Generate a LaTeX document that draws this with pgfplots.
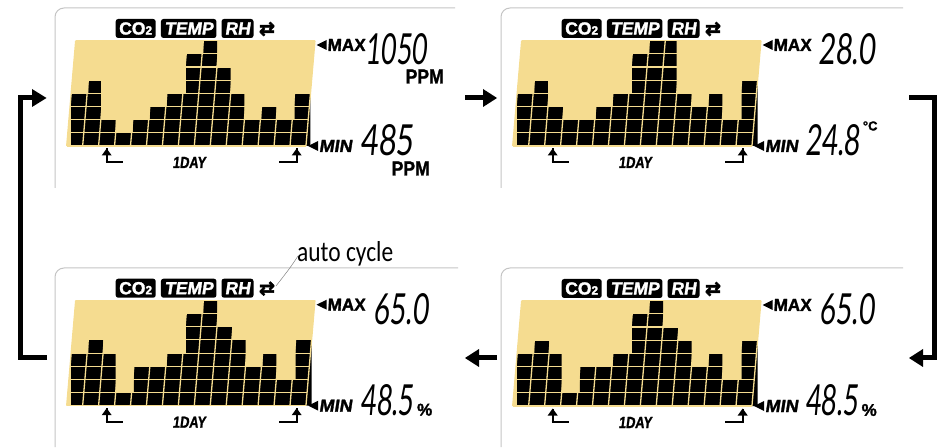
\documentclass[border=0pt]{standalone}
\usepackage{pgfplots}
\usepackage{pgfplotstable}
\usepackage{fontspec}
\usepackage{graphicx}
\pgfplotsset{compat=1.18}
\setmainfont{Liberation Sans}
\newfontfamily\lcd{Lato}
\newfontfamily\carl{Carlito}
\newfontfamily\djb[FakeBold=2.5]{DejaVu Sans Bold}
\newfontfamily\hvy[FakeBold=1.6]{Liberation Sans Bold}
\newfontfamily\hvi[FakeBold=1.6,FakeSlant=0.15]{Liberation Sans Bold}
\newfontfamily\hvs[FakeBold=1.6,FakeSlant=0.05]{Liberation Sans Bold}
\definecolor{lcdbg}{HTML}{F5DC90}
\definecolor{frm}{HTML}{C4C4C4}
\pgfplotstableread{
x h
0 4
1 5
2 2
3 1
4 2
5 3
6 4
7 7
8 8
9 6
10 4
11 2
12 3
13 2
14 4
15 4
}\tabA
\pgfplotstableread{
x h
0 4
1 5
2 3
3 2
4 2
5 3
6 4
7 7
8 8
9 8
10 4
11 3
12 4
13 2
14 5
15 5
}\tabB
\pgfplotstableread{
x h
0 4
1 5
2 4
3 1
4 3
5 3
6 4
7 7
8 8
9 6
10 5
11 3
12 4
13 2
14 5
15 5
}\tabC
\newcommand{\fs}[2]{\fontsize{#1}{#1}\selectfont #2}
\newcommand{\rb}[3]{\resizebox{#1pt}{#2pt}{#3}}
\newcommand{\lcdnum}[5]{% x y(center, rel) w h text
  \node[anchor=west,inner sep=0,xslant=0.09,transform shape] at (#1pt,#2pt) {\rb{#3}{#4}{\lcd #5}};}
\newcommand{\panel}[4]{% ox, oy(from top), table, extras
  \begin{axis}[
    at={(#1pt,447pt-#2pt)},anchor=origin,
    x={(15.95pt,0pt)},y={(1.125pt,13.16pt)},
    xmin=0,xmax=15,ymin=0,ymax=8,clip=false,
    axis line style={draw=none},
    xtick={0,1,...,15},xticklabels={},ytick={0,1,...,8},yticklabels={},
    major tick length=0pt,
    xmajorgrids,ymajorgrids,
    x grid style={lcdbg,line width=1.3pt},
    y grid style={lcdbg,line width=1.1pt},
    axis on top]
    \addplot[fill=lcdbg,draw=none] coordinates {(0,0)(15,0)(15,8)(0,8)} -- cycle;
    \addplot[const plot,fill=black,draw=none] table[x=x,y=h] {#3} \closedcycle;
  \end{axis}
  \begin{scope}[shift={(#1pt,447pt-#2pt)}]
    \node[fill=black,rounded corners=2.5pt,text=white,minimum width=40pt,minimum height=19pt,inner sep=0] at (69pt,117.5pt) {\hvy\fs{17.5}{CO}\fs{12}{2}};
    \node[fill=black,rounded corners=2.5pt,text=white,minimum width=55.5pt,minimum height=19pt,inner sep=0] at (122pt,117.5pt) {\hvi\fs{17.5}{TEMP}};
    \node[fill=black,rounded corners=2.5pt,text=white,minimum width=32pt,minimum height=19pt,inner sep=0] at (170.8pt,117.5pt) {\hvi\fs{17.5}{RH}};
    \node[inner sep=0] at (200.3pt,117pt) {\rb{16}{13}{\djb ⇄}};
    \fill (249.8pt,101pt)--(260pt,106pt)--(260pt,96pt)--cycle;
    \node[anchor=west,inner sep=0] at (260.5pt,101pt) {\rb{38}{12}{\hvs MAX}};
    \fill (241.5pt,0pt)--(251.5pt,5pt)--(251.5pt,-5pt)--cycle;
    \node[anchor=west,inner sep=0] at (252pt,0pt) {\rb{33}{12}{\hvi MIN}};
    \draw[line width=2pt] (40pt,-16pt)--(40pt,-2.5pt);
    \draw[line width=2pt] (39pt,-16pt)--(56.3pt,-16pt);
    \fill (40pt,-2.5pt)--(45pt,-9.5pt)--(35pt,-9.5pt)--cycle;
    \draw[line width=2pt] (230pt,-16pt)--(230pt,-2.5pt);
    \draw[line width=2pt] (231pt,-16pt)--(212.3pt,-16pt);
    \fill (230pt,-2.5pt)--(235pt,-9.5pt)--(225pt,-9.5pt)--cycle;
    \node[inner sep=0] at (122.3pt,-16.5pt) {\rb{33}{11}{\hvi 1DAY}};
    #4
  \end{scope}
}
\begin{document}
\begin{tikzpicture}
  \path[use as bounding box] (0,0) rectangle (939pt,447pt);
  % frames
  \draw[frm,line width=1pt,rounded corners=9pt] (55pt,447pt-188pt)--(55pt,447pt-8pt)--(455pt,447pt-8pt);
  \draw[frm,line width=1pt,rounded corners=9pt] (501pt,447pt-188pt)--(501pt,447pt-8pt)--(903pt,447pt-8pt);
  \draw[frm,line width=1pt,rounded corners=9pt] (55pt,0pt)--(55pt,447pt-268pt)--(458pt,447pt-268pt);
  \draw[frm,line width=1pt,rounded corners=9pt] (501pt,0pt)--(501pt,447pt-268pt)--(903pt,447pt-268pt);
  \panel{66.7}{146}{\tabA}{
    \lcdnum{300}{97}{61}{31}{1050}
    \lcdnum{295}{6}{53}{31}{485}
    \node[inner sep=0] at (358pt,69.5pt) {\rb{38}{14}{\hvy PPM}};
    \node[inner sep=0] at (344pt,-22.5pt) {\rb{38}{14}{\hvy PPM}};
  }
  \panel{512.7}{146}{\tabB}{
    \lcdnum{307}{97}{57}{31}{28.0}
    \lcdnum{293.5}{6}{55}{31}{24.8}
    \node[inner sep=0] at (357.5pt,20pt) {\hvy\fs{13}{°C}};
  }
  \panel{66.7}{405.7}{\tabC}{
    \lcdnum{308}{97}{55}{31}{65.0}
    \lcdnum{295}{6}{53}{31}{48.5}
    \node[inner sep=0] at (358pt,-4pt) {\hvy\fs{17}{\%}};
  }
  \panel{512.7}{406}{\tabC}{
    \lcdnum{308}{97}{55}{31}{65.0}
    \lcdnum{293.5}{6}{53}{31}{48.5}
    \node[inner sep=0] at (356.5pt,-4pt) {\hvy\fs{17}{\%}};
  }
  % arrows
  \draw[line width=5pt] (47pt,447pt-358pt)--(20.5pt,447pt-358pt)--(20.5pt,447pt-98pt)--(36pt,447pt-98pt);
  \fill (46.5pt,447pt-98pt)--(32pt,447pt-89pt)--(32pt,447pt-107pt)--cycle;
  \draw[line width=5pt] (465pt,447pt-98pt)--(486pt,447pt-98pt);
  \fill (497pt,447pt-98pt)--(483pt,447pt-89pt)--(483pt,447pt-107pt)--cycle;
  \draw[line width=5pt] (909pt,447pt-98pt)--(934.5pt,447pt-98pt)--(934.5pt,447pt-358pt)--(920pt,447pt-358pt);
  \fill (909pt,447pt-358pt)--(923pt,447pt-349pt)--(923pt,447pt-367pt)--cycle;
  \draw[line width=5pt] (497pt,447pt-358pt)--(476pt,447pt-358pt);
  \fill (465pt,447pt-358pt)--(479pt,447pt-349pt)--(479pt,447pt-367pt)--cycle;
  % auto cycle
  \node[anchor=west,inner sep=0] at (297pt,447pt-254pt) {\rb{96}{20}{\carl auto cycle}};
  \draw[gray,line width=0.5pt] (298pt,447pt-256pt) .. controls (290pt,447pt-268pt) .. (276pt,447pt-286pt);
\end{tikzpicture}
\end{document}
